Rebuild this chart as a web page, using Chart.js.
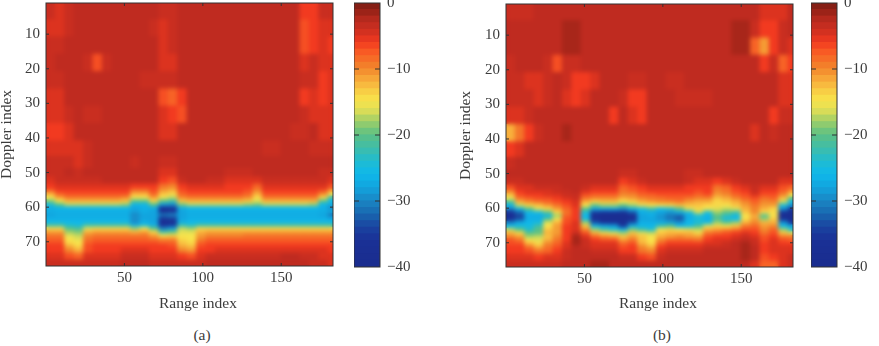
<!DOCTYPE html>
<html>
<head>
<meta charset="utf-8">
<title>Range-Doppler maps</title>
<script src="https://cdn.jsdelivr.net/npm/chart.js@4/dist/chart.umd.min.js"></script>
<style>
  body { margin: 0; background: #fff; width: 879px; height: 346px; overflow: hidden; position: relative; }
  canvas { position: absolute; top: 0; }
  .caption { position: absolute; width: 120px; text-align: center; font: 15.5px "Liberation Serif", serif; color: #3c3c3c; }
</style>
</head>
<body>
<canvas id="mapA" width="345" height="314" style="left:0"></canvas>
<canvas id="barA" width="70" height="290" style="left:354px"></canvas>
<canvas id="mapB" width="345" height="314" style="left:459px"></canvas>
<canvas id="barB" width="68" height="290" style="left:811px"></canvas>
<div class="caption" style="left:138px;top:294px">Range index</div>
<div class="caption" style="left:598px;top:294px">Range index</div>
<div class="caption" style="left:142px;top:326px">(a)</div>
<div class="caption" style="left:602px;top:326px">(b)</div>
<script>
// column centres along range, 6 bins wide
const rangeCols = [3,9,15,21,27,33,39,45,51,57,63,69,75,81,87,93,99,105,111,117,123,129,135,141,147,153,159,165,171,177,183];
// row boundaries along doppler, finer through the clutter band
const dopplerEdges = [1,5.5,10.5,15.5,20.5,25.5,30.5,35.5,40.5,45,48.5,51,53,54.5,55.5,56.5,57.5,58.5,59.5,60.5,61.5,62.5,63.5,64.5,65.5,66.5,67.5,68.5,69.5,70.5,71.5,73,75,77];
const rangeTicks = [50,100,150];
const dopplerTicks = [10,20,30,40,50,60,70];
const colorbarTicks = [-40,-30,-20,-10,0];
const colorbarLevels = [-40,-39,-38,-37,-36,-35,-34,-33,-32,-31,-30,-29,-28,-27,-26,-25,-24,-23,-22,-21,-20,-19,-18,-17,-16,-15,-14,-13,-12,-11,-10,-9,-8,-7,-6,-5,-4,-3,-2,-1];

// dB per cell, one list per doppler row
const rowsA = [
  [-4,-5,-4,-3,-3,-3,-3,-3,-3,-3,-3,-3,-4,-4,-3,-3,-3,-3,-3,-3,-3,-3,-3,-3,-3,-3,-3,-6,-6,-4,-4],
  [-5,-5,-4,-3,-3,-3,-3,-3,-3,-3,-3,-4,-5,-4,-3,-3,-3,-3,-3,-3,-3,-3,-3,-3,-3,-3,-3,-7,-6,-5,-5],
  [-4,-4,-3,-3,-3,-3,-3,-3,-3,-3,-3,-3,-5,-4,-3,-3,-3,-3,-3,-3,-3,-3,-3,-3,-3,-3,-3,-7,-6,-5,-6],
  [-4,-3,-3,-3,-4,-7,-4,-3,-3,-3,-3,-3,-5,-5,-3,-3,-3,-3,-3,-3,-3,-3,-3,-3,-3,-3,-3,-5,-4,-5,-5],
  [-4,-4,-3,-3,-3,-3,-3,-3,-3,-3,-4,-4,-4,-4,-3,-3,-3,-3,-3,-3,-3,-3,-3,-3,-3,-3,-3,-4,-4,-6,-5],
  [-5,-5,-3,-3,-3,-3,-3,-3,-3,-3,-3,-3,-7,-8,-6,-3,-3,-3,-3,-3,-3,-3,-3,-3,-3,-3,-3,-6,-5,-6,-5],
  [-5,-5,-4,-3,-4,-4,-3,-3,-3,-3,-3,-3,-5,-6,-7,-3,-3,-3,-3,-3,-3,-3,-3,-3,-3,-3,-3,-4,-5,-5,-5],
  [-6,-6,-5,-3,-3,-3,-3,-3,-3,-3,-3,-3,-5,-5,-3,-3,-3,-3,-3,-3,-3,-3,-3,-3,-3,-3,-4,-4,-3,-5,-5],
  [-5,-5,-5,-5,-4,-3,-3,-3,-3,-3,-3,-3,-3,-3,-3,-3,-3,-3,-3,-3,-3,-3,-3,-4,-4,-3,-3,-3,-4,-4,-4],
  [-4,-4,-4,-5,-4,-3,-3,-3,-3,-4,-3,-3,-4,-4,-3,-3,-3,-3,-3,-3,-3,-3,-3,-3,-3,-3,-3,-3,-3,-3,-3],
  [-4,-4,-3,-4,-3,-3,-3,-3,-3,-3,-3,-3,-5,-5,-3,-3,-3,-3,-3,-4,-4,-4,-3,-3,-3,-3,-3,-3,-3,-4,-4],
  [-5,-4,-4,-4,-4,-4,-3,-3,-3,-3,-3,-3,-6,-7,-4,-3,-3,-4,-4,-5,-5,-5,-5,-4,-4,-4,-4,-4,-4,-4,-5],
  [-6,-5,-5,-5,-5,-5,-5,-5,-5,-6,-6,-6,-9,-10,-6,-5,-5,-5,-5,-6,-6,-6,-8,-5,-5,-5,-5,-5,-5,-5,-7],
  [-8,-6,-6,-6,-6,-6,-6,-6,-6,-9,-9,-7,-11,-12,-7,-6,-6,-6,-6,-6,-6,-7,-10,-6,-6,-6,-6,-6,-6,-7,-11],
  [-12,-8,-7,-7,-7,-7,-7,-7,-7,-12,-12,-8,-13,-14,-8,-7,-7,-7,-7,-7,-7,-8,-12,-7,-7,-7,-7,-7,-7,-10,-15],
  [-15,-11,-9,-9,-9,-9,-9,-9,-10,-15,-15,-11,-15,-17,-10,-9,-9,-9,-9,-9,-9,-10,-14,-9,-9,-9,-9,-9,-9,-14,-22],
  [-19,-15,-12,-12,-12,-12,-12,-12,-13,-20,-20,-14,-20,-22,-13,-12,-12,-12,-12,-12,-12,-13,-16,-12,-12,-12,-12,-12,-12,-20,-26],
  [-24,-20,-17,-17,-17,-17,-17,-17,-18,-26,-26,-20,-28,-29,-19,-17,-17,-17,-17,-17,-17,-18,-19,-17,-17,-17,-17,-17,-18,-26,-27],
  [-27,-26,-26,-26,-26,-26,-26,-26,-26,-28,-27,-27,-36,-35,-27,-26,-26,-26,-26,-26,-26,-26,-26,-26,-26,-26,-26,-26,-26,-27,-30],
  [-27,-27,-27,-27,-27,-27,-27,-27,-27,-28,-27,-28,-37,-36,-28,-27,-27,-27,-27,-27,-27,-27,-27,-27,-27,-27,-27,-27,-27,-27,-27],
  [-28,-27,-27,-27,-27,-27,-27,-27,-27,-30,-28,-28,-31,-30,-28,-27,-27,-27,-27,-27,-27,-27,-27,-27,-27,-27,-27,-27,-27,-28,-31],
  [-27,-27,-27,-27,-27,-27,-27,-27,-27,-29,-28,-28,-35,-34,-28,-27,-27,-27,-27,-27,-27,-27,-27,-27,-27,-27,-27,-27,-27,-27,-28],
  [-26,-26,-26,-26,-26,-26,-26,-26,-26,-30,-27,-28,-37,-37,-27,-26,-26,-26,-26,-26,-26,-26,-26,-26,-26,-26,-26,-26,-26,-26,-26],
  [-22,-22,-24,-25,-22,-22,-22,-22,-22,-27,-25,-27,-36,-35,-23,-24,-22,-22,-22,-22,-22,-22,-22,-22,-22,-22,-22,-22,-22,-22,-22],
  [-14,-14,-20,-21,-16,-14,-14,-14,-14,-18,-15,-20,-30,-28,-17,-18,-14,-14,-14,-14,-14,-14,-14,-14,-14,-14,-14,-14,-14,-14,-14],
  [-11,-11,-18,-19,-12,-11,-11,-11,-11,-12,-11,-14,-22,-20,-16,-16,-12,-11,-11,-11,-11,-11,-11,-11,-11,-11,-11,-11,-11,-11,-11],
  [-9,-9,-16,-17,-10,-9,-9,-9,-9,-9,-9,-11,-15,-14,-15,-15,-11,-10,-10,-10,-10,-9,-9,-9,-9,-9,-9,-9,-9,-9,-9],
  [-8,-8,-15,-16,-9,-8,-8,-8,-8,-8,-8,-9,-10,-10,-14,-15,-10,-8,-8,-8,-8,-8,-8,-8,-8,-8,-8,-8,-8,-8,-8],
  [-7,-7,-14,-15,-8,-7,-7,-7,-7,-7,-7,-7,-8,-8,-13,-14,-8,-7,-7,-7,-7,-7,-7,-7,-7,-7,-7,-7,-7,-7,-7],
  [-6,-6,-12,-14,-7,-6,-6,-6,-6,-6,-6,-6,-6,-7,-12,-13,-7,-6,-6,-6,-6,-6,-6,-6,-6,-6,-6,-6,-6,-6,-6],
  [-6,-6,-10,-12,-7,-6,-6,-6,-5,-5,-5,-6,-6,-6,-10,-11,-6,-6,-5,-5,-5,-5,-5,-5,-5,-5,-5,-5,-5,-5,-6],
  [-5,-5,-7,-8,-5,-5,-5,-5,-4,-4,-4,-5,-5,-5,-6,-7,-5,-4,-4,-4,-4,-4,-4,-4,-4,-3,-3,-4,-4,-5,-5],
  [-4,-4,-4,-4,-4,-4,-4,-4,-3,-3,-3,-4,-4,-4,-4,-4,-4,-3,-3,-3,-3,-3,-3,-3,-3,-3,-3,-3,-4,-4,-5]
];

// panel (b), rows above the band
const upperB = [
  [-4,-4,-4,-3,-3,-3,-3,-3,-3,-3,-3,-3,-3,-3,-3,-3,-3,-3,-3,-3,-3,-3,-3,-3,-3,-3,-3,-5,-5,-5,-3],
  [-3,-3,-3,-3,-3,-3,-2,-2,-3,-3,-3,-3,-3,-3,-3,-3,-3,-3,-3,-3,-3,-3,-3,-3,-2,-2,-4,-6,-6,-4,-3],
  [-3,-3,-3,-3,-3,-3,-2,-2,-3,-3,-3,-3,-3,-3,-3,-3,-3,-3,-3,-3,-3,-3,-3,-3,-2,-2,-8,-11,-6,-4,-5],
  [-4,-3,-3,-3,-4,-7,-4,-4,-3,-3,-3,-3,-3,-3,-3,-3,-3,-3,-3,-3,-3,-3,-3,-3,-3,-3,-3,-6,-4,-8,-6],
  [-4,-4,-5,-5,-4,-3,-4,-6,-6,-5,-3,-3,-3,-4,-4,-3,-3,-4,-4,-3,-3,-3,-3,-3,-3,-3,-3,-3,-3,-5,-5],
  [-4,-4,-4,-5,-4,-3,-5,-6,-5,-3,-3,-3,-4,-6,-6,-3,-3,-3,-4,-4,-4,-4,-3,-3,-3,-3,-3,-3,-3,-5,-5],
  [-5,-5,-4,-3,-3,-3,-3,-3,-3,-3,-3,-6,-3,-5,-6,-3,-3,-3,-3,-3,-3,-3,-3,-3,-3,-3,-3,-3,-6,-4,-4],
  [-12,-9,-6,-4,-3,-3,-2,-3,-3,-3,-3,-3,-3,-3,-3,-3,-3,-3,-3,-3,-3,-3,-3,-3,-3,-3,-5,-3,-4,-3,-3],
  [-6,-5,-3,-3,-3,-3,-3,-3,-3,-3,-3,-3,-3,-3,-3,-3,-3,-3,-3,-3,-3,-3,-3,-3,-3,-3,-3,-3,-3,-3,-3],
  [-4,-3,-3,-3,-3,-3,-3,-3,-3,-3,-3,-3,-3,-3,-3,-3,-3,-3,-3,-3,-3,-3,-3,-3,-3,-3,-3,-3,-3,-3,-3],
  [-3,-3,-3,-3,-3,-3,-3,-3,-3,-3,-3,-3,-4,-4,-3,-3,-3,-3,-3,-4,-4,-3,-3,-3,-3,-3,-3,-3,-3,-3,-3],
  [-4,-4,-3,-3,-3,-3,-3,-3,-3,-3,-3,-3,-6,-5,-4,-3,-3,-3,-3,-4,-5,-5,-6,-5,-4,-3,-3,-3,-3,-5,-5]
];
// panel (b), band and below, one list per range column from doppler 54 down
const bandColsB = [
  [-7,-10,-13,-16,-21,-26,-30,-36,-37,-37,-30,-26,-17,-12,-10,-7,-7,-6,-6,-5,-4],
  [-5,-6,-7,-9,-12,-17,-26,-32,-34,-33,-27,-25,-20,-14,-11,-9,-7,-6,-6,-5,-4],
  [-5,-5,-6,-8,-10,-14,-20,-26,-27,-27,-26,-25,-24,-20,-18,-15,-12,-9,-7,-5,-4],
  [-4,-5,-6,-7,-9,-13,-16,-25,-27,-27,-25,-22,-20,-20,-17,-16,-14,-12,-9,-6,-4],
  [-4,-5,-5,-7,-8,-11,-14,-20,-26,-20,-16,-15,-13,-12,-13,-12,-10,-9,-8,-5,-4],
  [-4,-4,-5,-6,-7,-9,-11,-14,-18,-15,-12,-11,-11,-11,-10,-9,-8,-7,-6,-5,-4],
  [-3,-4,-4,-5,-6,-7,-8,-9,-8,-7,-7,-6,-6,-6,-6,-6,-5,-5,-4,-4,-3],
  [-3,-3,-4,-4,-5,-5,-6,-6,-6,-6,-5,-5,-5,-4,-2,-2,-2,-3,-3,-3,-3],
  [-4,-5,-7,-9,-12,-15,-20,-24,-26,-25,-18,-13,-10,-7,-5,-4,-4,-4,-3,-3,-3],
  [-5,-6,-8,-10,-14,-20,-27,-35,-37,-37,-33,-26,-18,-12,-8,-6,-5,-5,-4,-3,-2],
  [-5,-6,-8,-10,-13,-18,-27,-36,-38,-38,-36,-27,-22,-14,-10,-7,-5,-5,-4,-3,-2],
  [-5,-6,-8,-10,-13,-18,-27,-36,-38,-38,-36,-28,-24,-16,-11,-7,-5,-5,-4,-3,-3],
  [-8,-9,-10,-12,-15,-20,-29,-37,-38,-38,-37,-35,-26,-18,-13,-11,-8,-7,-6,-4,-3],
  [-7,-8,-10,-11,-14,-18,-26,-33,-37,-37,-33,-26,-19,-13,-11,-9,-7,-6,-6,-4,-3],
  [-6,-7,-8,-10,-12,-16,-25,-27,-28,-28,-27,-26,-22,-16,-13,-13,-12,-10,-9,-6,-3],
  [-5,-6,-8,-9,-11,-15,-22,-27,-27,-28,-27,-26,-24,-17,-15,-15,-14,-12,-10,-7,-3],
  [-5,-6,-7,-9,-10,-15,-26,-28,-29,-29,-27,-22,-15,-13,-12,-10,-8,-6,-5,-4,-3],
  [-5,-6,-7,-8,-10,-14,-24,-29,-31,-31,-28,-20,-14,-12,-11,-8,-6,-5,-4,-3,-3],
  [-5,-6,-7,-8,-9,-13,-20,-27,-32,-33,-29,-26,-15,-12,-10,-8,-6,-5,-4,-3,-3],
  [-6,-6,-7,-9,-11,-13,-16,-25,-27,-27,-26,-25,-16,-12,-11,-8,-6,-5,-4,-3,-3],
  [-6,-7,-8,-10,-12,-13,-14,-17,-25,-24,-25,-21,-17,-14,-11,-9,-6,-5,-4,-3,-3],
  [-6,-6,-7,-10,-12,-14,-15,-24,-26,-27,-25,-16,-12,-9,-7,-6,-5,-4,-3,-3,-3],
  [-9,-10,-11,-13,-14,-14,-16,-18,-20,-21,-18,-14,-11,-8,-6,-5,-5,-4,-3,-3,-3],
  [-8,-9,-10,-12,-13,-15,-17,-20,-23,-25,-20,-15,-10,-7,-6,-5,-4,-4,-3,-3,-3],
  [-6,-7,-8,-10,-12,-13,-16,-22,-25,-26,-18,-13,-9,-6,-5,-4,-3,-3,-3,-3,-3],
  [-5,-6,-7,-8,-10,-11,-12,-13,-15,-14,-12,-9,-7,-5,-4,-3,-2,-2,-2,-2,-3],
  [-4,-4,-5,-7,-8,-9,-10,-10,-12,-11,-10,-8,-7,-6,-5,-4,-4,-3,-3,-3,-5],
  [-5,-6,-7,-9,-10,-11,-12,-14,-21,-18,-12,-11,-10,-9,-7,-7,-6,-6,-6,-7,-8],
  [-5,-6,-7,-8,-10,-11,-14,-14,-15,-13,-12,-10,-8,-7,-6,-5,-5,-5,-5,-6,-8],
  [-7,-8,-10,-13,-17,-25,-29,-36,-37,-36,-29,-26,-18,-13,-9,-7,-6,-5,-5,-5,-5],
  [-8,-11,-15,-20,-26,-29,-36,-38,-38,-38,-36,-27,-24,-16,-9,-8,-6,-5,-5,-4,-4]
];
const rowsB = upperB.concat(bandColsB[0].map((_, r) => bandColsB.map(col => col[r])));

// colour ramp, dB -> hex
const ramp = [
  [-40,'#1a2c8e'],[-36,'#1a3096'],[-34,'#1a44a0'],[-32,'#1868b0'],[-30,'#1a86c4'],[-28,'#12a4de'],[-26,'#0fb8ea'],
  [-24,'#20bcd0'],[-22,'#40bda8'],[-20,'#5cc084'],[-18,'#9ecf68'],[-16.5,'#d8dc58'],[-15,'#f8e44c'],[-14,'#f8d848'],
  [-12,'#f8b03c'],[-10,'#f2872c'],[-7.5,'#f85a24'],[-6,'#f23a20'],[-5,'#dc331f'],[-4,'#c92e20'],[-3,'#bf2b20'],
  [-2,'#a8261a'],[-1,'#8f2016'],[0,'#7c1d14']
];
function hexToRgb(h) {
  return [1, 3, 5].map(i => parseInt(h.slice(i, i + 2), 16));
}
function colourFor(v) {
  for (let i = 1; i < ramp.length; i++) {
    if (v <= ramp[i][0]) {
      const t = (v - ramp[i - 1][0]) / (ramp[i][0] - ramp[i - 1][0]);
      const a = hexToRgb(ramp[i - 1][1]), b = hexToRgb(ramp[i][1]);
      return `rgb(${a.map((c, k) => Math.round(c + (b[k] - c) * t)).join(',')})`;
    }
  }
  return ramp[ramp.length - 1][1];
}

const textColor = '#3c3c3c';
const tickFont = { family: '"Liberation Serif", serif', size: 15 };
const titleFont = { family: '"Liberation Serif", serif', size: 15.5, lineHeight: 0.85 };

// axis boxes carry no padding of their own, the plot edges are set by hand
function noScalePadding(s) {
  s.paddingTop = s.paddingBottom = s.paddingLeft = s.paddingRight = 0;
}

// interpolated shading over the map cells
const shadeCells = {
  id: 'shadeCells',
  afterDatasetsDraw(chart) {
    const { ctx, canvas, chartArea: a } = chart;
    const w = a.right - a.left, h = a.bottom - a.top;
    ctx.save();
    ctx.beginPath();
    ctx.rect(a.left, a.top, w, h);
    ctx.clip();
    ctx.filter = 'blur(2px)';
    ctx.drawImage(canvas, a.left, a.top, w, h, a.left, a.top, w, h);
    ctx.restore();
  }
};

// box round the plot and the small inward tick marks on all sides
const boxTicks = {
  id: 'boxTicks',
  afterDatasetsDraw(chart) {
    const { ctx, chartArea: a, scales } = chart;
    const len = 3;
    ctx.save();
    ctx.strokeStyle = '#333';
    ctx.lineWidth = 1;
    ctx.strokeRect(a.left, a.top, a.right - a.left, a.bottom - a.top);
    ctx.beginPath();
    if (scales.x.options.display) {
      scales.x.ticks.forEach(t => {
        const x = scales.x.getPixelForValue(t.value);
        ctx.moveTo(x, a.bottom); ctx.lineTo(x, a.bottom - len);
        ctx.moveTo(x, a.top); ctx.lineTo(x, a.top + len);
      });
    }
    const ylen = scales.x.options.display ? len : 5;
    scales.y.ticks.forEach(t => {
      const y = scales.y.getPixelForValue(t.value);
      if (y <= a.top + 1 || y >= a.bottom - 1) return;
      ctx.moveTo(a.left, y); ctx.lineTo(a.left + ylen, y);
      ctx.moveTo(a.right, y); ctx.lineTo(a.right - ylen, y);
    });
    ctx.stroke();
    ctx.restore();
  }
};

function drawMap(id, rows, top, bottom, yAxisWidth, rightPad) {
  const datasets = rows.map((row, r) => ({
    data: row.map((v, c) => ({ x: rangeCols[c], y: [dopplerEdges[r], dopplerEdges[r + 1]] })),
    backgroundColor: row.map(colourFor),
    borderWidth: 0,
    inflateAmount: 0.6,
    grouped: false,
    barPercentage: 1,
    categoryPercentage: 1
  }));
  return new Chart(document.getElementById(id), {
    type: 'bar',
    data: { datasets },
    plugins: [shadeCells, boxTicks],
    options: {
      responsive: false,
      animation: false,
      layout: { padding: { top, right: rightPad, bottom: 0, left: 0 } },
      plugins: { legend: { display: false }, tooltip: { enabled: false } },
      scales: {
        x: {
          type: 'linear', min: 0, max: 183, offset: false,
          grid: { display: false, drawTicks: false, tickLength: 0 },
          border: { display: false },
          afterBuildTicks: s => { s.ticks = rangeTicks.map(value => ({ value })); },
          afterFit: s => { s.height = 314 - bottom; noScalePadding(s); },
          ticks: { color: textColor, font: tickFont, padding: 3, maxRotation: 0 }
        },
        y: {
          type: 'linear', min: 1, max: 77, reverse: true,
          grid: { display: false, drawTicks: false, tickLength: 0 },
          border: { display: false },
          afterBuildTicks: s => { s.ticks = dopplerTicks.map(value => ({ value })); },
          afterFit: s => { s.width = yAxisWidth; noScalePadding(s); },
          ticks: { color: textColor, font: tickFont, padding: 6 },
          title: { display: true, text: 'Doppler index', color: textColor, font: titleFont, padding: 0 }
        }
      }
    }
  });
}

function drawColorbar(id, top, barWidth) {
  const datasets = colorbarLevels.map(lvl => ({
    data: [[lvl, lvl + 1]],
    backgroundColor: colourFor(lvl + 0.5),
    borderWidth: 0,
    inflateAmount: 0.6,
    grouped: false,
    barPercentage: 1,
    categoryPercentage: 1
  }));
  return new Chart(document.getElementById(id), {
    type: 'bar',
    data: { labels: ['dB'], datasets },
    plugins: [boxTicks],
    options: {
      responsive: false,
      animation: false,
      layout: { padding: { top, right: 0, bottom: 23, left: 0 } },
      plugins: { legend: { display: false }, tooltip: { enabled: false } },
      scales: {
        x: { display: false },
        y: {
          type: 'linear', min: -40, max: 0, position: 'right',
          grid: { display: false, drawTicks: false, tickLength: 0 },
          border: { display: false },
          afterBuildTicks: s => { s.ticks = colorbarTicks.map(value => ({ value })); },
          afterFit: s => { s.width = document.getElementById(id).width - barWidth; noScalePadding(s); },
          ticks: {
            color: textColor, font: tickFont, padding: 7,
            callback: v => String(v).replace('-', '\u2212')
          }
        }
      }
    }
  });
}

drawMap('mapA', rowsA, 3, 266, 46, 12);
drawColorbar('barA', 3, 26);
drawMap('mapB', rowsB, 4, 267, 47, 11);
drawColorbar('barB', 3, 26);
</script>
</body>
</html>
